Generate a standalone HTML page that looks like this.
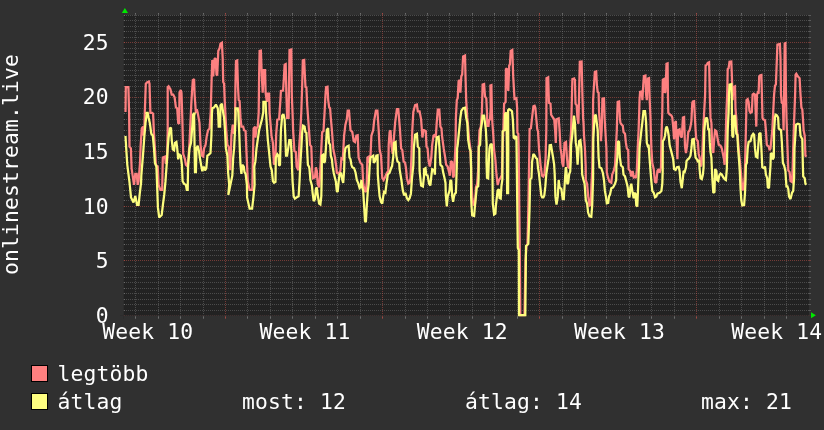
<!DOCTYPE html>
<html><head><meta charset="utf-8"><title>onlinestream.live</title>
<style>html,body{margin:0;padding:0;background:#303030;overflow:hidden}svg{display:block;will-change:transform}text{font-family:"DejaVu Sans Mono","Liberation Mono",monospace;font-size:21.33px;fill:#fff;letter-spacing:0.157px}</style>
</head><body>
<svg width="824" height="430" viewBox="0 0 824 430">
<rect x="0" y="0" width="824" height="430" fill="#303030"/>
<rect x="124" y="15" width="685" height="301" fill="#222222"/>
<g shape-rendering="crispEdges" stroke-width="1" stroke-dasharray="1 1" fill="none">
<line x1="124" x2="808" y1="315.5" y2="315.5" stroke="#c8544c" stroke-opacity="0.50"/>
<line x1="124" x2="808" y1="310.5" y2="310.5" stroke="#8f8f8f" stroke-opacity="0.38"/>
<line x1="124" x2="808" y1="304.5" y2="304.5" stroke="#8f8f8f" stroke-opacity="0.38"/>
<line x1="124" x2="808" y1="299.5" y2="299.5" stroke="#8f8f8f" stroke-opacity="0.38"/>
<line x1="124" x2="808" y1="293.5" y2="293.5" stroke="#8f8f8f" stroke-opacity="0.38"/>
<line x1="124" x2="808" y1="288.5" y2="288.5" stroke="#8f8f8f" stroke-opacity="0.38"/>
<line x1="124" x2="808" y1="282.5" y2="282.5" stroke="#8f8f8f" stroke-opacity="0.38"/>
<line x1="124" x2="808" y1="277.5" y2="277.5" stroke="#8f8f8f" stroke-opacity="0.38"/>
<line x1="124" x2="808" y1="271.5" y2="271.5" stroke="#8f8f8f" stroke-opacity="0.38"/>
<line x1="124" x2="808" y1="266.5" y2="266.5" stroke="#8f8f8f" stroke-opacity="0.38"/>
<line x1="124" x2="808" y1="260.5" y2="260.5" stroke="#c8544c" stroke-opacity="0.50"/>
<line x1="124" x2="808" y1="255.5" y2="255.5" stroke="#8f8f8f" stroke-opacity="0.38"/>
<line x1="124" x2="808" y1="250.5" y2="250.5" stroke="#8f8f8f" stroke-opacity="0.38"/>
<line x1="124" x2="808" y1="244.5" y2="244.5" stroke="#8f8f8f" stroke-opacity="0.38"/>
<line x1="124" x2="808" y1="239.5" y2="239.5" stroke="#8f8f8f" stroke-opacity="0.38"/>
<line x1="124" x2="808" y1="233.5" y2="233.5" stroke="#8f8f8f" stroke-opacity="0.38"/>
<line x1="124" x2="808" y1="228.5" y2="228.5" stroke="#8f8f8f" stroke-opacity="0.38"/>
<line x1="124" x2="808" y1="222.5" y2="222.5" stroke="#8f8f8f" stroke-opacity="0.38"/>
<line x1="124" x2="808" y1="217.5" y2="217.5" stroke="#8f8f8f" stroke-opacity="0.38"/>
<line x1="124" x2="808" y1="211.5" y2="211.5" stroke="#8f8f8f" stroke-opacity="0.38"/>
<line x1="124" x2="808" y1="206.5" y2="206.5" stroke="#c8544c" stroke-opacity="0.50"/>
<line x1="124" x2="808" y1="200.5" y2="200.5" stroke="#8f8f8f" stroke-opacity="0.38"/>
<line x1="124" x2="808" y1="195.5" y2="195.5" stroke="#8f8f8f" stroke-opacity="0.38"/>
<line x1="124" x2="808" y1="190.5" y2="190.5" stroke="#8f8f8f" stroke-opacity="0.38"/>
<line x1="124" x2="808" y1="184.5" y2="184.5" stroke="#8f8f8f" stroke-opacity="0.38"/>
<line x1="124" x2="808" y1="179.5" y2="179.5" stroke="#8f8f8f" stroke-opacity="0.38"/>
<line x1="124" x2="808" y1="173.5" y2="173.5" stroke="#8f8f8f" stroke-opacity="0.38"/>
<line x1="124" x2="808" y1="168.5" y2="168.5" stroke="#8f8f8f" stroke-opacity="0.38"/>
<line x1="124" x2="808" y1="162.5" y2="162.5" stroke="#8f8f8f" stroke-opacity="0.38"/>
<line x1="124" x2="808" y1="157.5" y2="157.5" stroke="#8f8f8f" stroke-opacity="0.38"/>
<line x1="124" x2="808" y1="151.5" y2="151.5" stroke="#c8544c" stroke-opacity="0.50"/>
<line x1="124" x2="808" y1="146.5" y2="146.5" stroke="#8f8f8f" stroke-opacity="0.38"/>
<line x1="124" x2="808" y1="140.5" y2="140.5" stroke="#8f8f8f" stroke-opacity="0.38"/>
<line x1="124" x2="808" y1="135.5" y2="135.5" stroke="#8f8f8f" stroke-opacity="0.38"/>
<line x1="124" x2="808" y1="130.5" y2="130.5" stroke="#8f8f8f" stroke-opacity="0.38"/>
<line x1="124" x2="808" y1="124.5" y2="124.5" stroke="#8f8f8f" stroke-opacity="0.38"/>
<line x1="124" x2="808" y1="119.5" y2="119.5" stroke="#8f8f8f" stroke-opacity="0.38"/>
<line x1="124" x2="808" y1="113.5" y2="113.5" stroke="#8f8f8f" stroke-opacity="0.38"/>
<line x1="124" x2="808" y1="108.5" y2="108.5" stroke="#8f8f8f" stroke-opacity="0.38"/>
<line x1="124" x2="808" y1="102.5" y2="102.5" stroke="#8f8f8f" stroke-opacity="0.38"/>
<line x1="124" x2="808" y1="97.5" y2="97.5" stroke="#c8544c" stroke-opacity="0.50"/>
<line x1="124" x2="808" y1="91.5" y2="91.5" stroke="#8f8f8f" stroke-opacity="0.38"/>
<line x1="124" x2="808" y1="86.5" y2="86.5" stroke="#8f8f8f" stroke-opacity="0.38"/>
<line x1="124" x2="808" y1="80.5" y2="80.5" stroke="#8f8f8f" stroke-opacity="0.38"/>
<line x1="124" x2="808" y1="75.5" y2="75.5" stroke="#8f8f8f" stroke-opacity="0.38"/>
<line x1="124" x2="808" y1="70.5" y2="70.5" stroke="#8f8f8f" stroke-opacity="0.38"/>
<line x1="124" x2="808" y1="64.5" y2="64.5" stroke="#8f8f8f" stroke-opacity="0.38"/>
<line x1="124" x2="808" y1="59.5" y2="59.5" stroke="#8f8f8f" stroke-opacity="0.38"/>
<line x1="124" x2="808" y1="53.5" y2="53.5" stroke="#8f8f8f" stroke-opacity="0.38"/>
<line x1="124" x2="808" y1="48.5" y2="48.5" stroke="#8f8f8f" stroke-opacity="0.38"/>
<line x1="124" x2="808" y1="42.5" y2="42.5" stroke="#c8544c" stroke-opacity="0.50"/>
<line x1="124" x2="808" y1="37.5" y2="37.5" stroke="#8f8f8f" stroke-opacity="0.38"/>
<line x1="124" x2="808" y1="31.5" y2="31.5" stroke="#8f8f8f" stroke-opacity="0.38"/>
<line x1="124" x2="808" y1="26.5" y2="26.5" stroke="#8f8f8f" stroke-opacity="0.38"/>
<line x1="124" x2="808" y1="20.5" y2="20.5" stroke="#8f8f8f" stroke-opacity="0.38"/>
<line x1="124" x2="808" y1="15.5" y2="15.5" stroke="#8f8f8f" stroke-opacity="0.38"/>
<line x1="135.5" x2="135.5" y1="13" y2="319" stroke="#8f8f8f" stroke-opacity="0.38"/>
<line x1="158.5" x2="158.5" y1="13" y2="319" stroke="#8f8f8f" stroke-opacity="0.38"/>
<line x1="180.5" x2="180.5" y1="13" y2="319" stroke="#8f8f8f" stroke-opacity="0.38"/>
<line x1="203.5" x2="203.5" y1="13" y2="319" stroke="#8f8f8f" stroke-opacity="0.38"/>
<line x1="225.5" x2="225.5" y1="13" y2="319" stroke="#c8544c" stroke-opacity="0.50"/>
<line x1="247.5" x2="247.5" y1="13" y2="319" stroke="#8f8f8f" stroke-opacity="0.38"/>
<line x1="270.5" x2="270.5" y1="13" y2="319" stroke="#8f8f8f" stroke-opacity="0.38"/>
<line x1="292.5" x2="292.5" y1="13" y2="319" stroke="#8f8f8f" stroke-opacity="0.38"/>
<line x1="315.5" x2="315.5" y1="13" y2="319" stroke="#8f8f8f" stroke-opacity="0.38"/>
<line x1="337.5" x2="337.5" y1="13" y2="319" stroke="#8f8f8f" stroke-opacity="0.38"/>
<line x1="360.5" x2="360.5" y1="13" y2="319" stroke="#8f8f8f" stroke-opacity="0.38"/>
<line x1="382.5" x2="382.5" y1="13" y2="319" stroke="#c8544c" stroke-opacity="0.50"/>
<line x1="405.5" x2="405.5" y1="13" y2="319" stroke="#8f8f8f" stroke-opacity="0.38"/>
<line x1="427.5" x2="427.5" y1="13" y2="319" stroke="#8f8f8f" stroke-opacity="0.38"/>
<line x1="449.5" x2="449.5" y1="13" y2="319" stroke="#8f8f8f" stroke-opacity="0.38"/>
<line x1="472.5" x2="472.5" y1="13" y2="319" stroke="#8f8f8f" stroke-opacity="0.38"/>
<line x1="494.5" x2="494.5" y1="13" y2="319" stroke="#8f8f8f" stroke-opacity="0.38"/>
<line x1="517.5" x2="517.5" y1="13" y2="319" stroke="#8f8f8f" stroke-opacity="0.38"/>
<line x1="539.5" x2="539.5" y1="13" y2="319" stroke="#c8544c" stroke-opacity="0.50"/>
<line x1="562.5" x2="562.5" y1="13" y2="319" stroke="#8f8f8f" stroke-opacity="0.38"/>
<line x1="584.5" x2="584.5" y1="13" y2="319" stroke="#8f8f8f" stroke-opacity="0.38"/>
<line x1="606.5" x2="606.5" y1="13" y2="319" stroke="#8f8f8f" stroke-opacity="0.38"/>
<line x1="629.5" x2="629.5" y1="13" y2="319" stroke="#8f8f8f" stroke-opacity="0.38"/>
<line x1="651.5" x2="651.5" y1="13" y2="319" stroke="#8f8f8f" stroke-opacity="0.38"/>
<line x1="674.5" x2="674.5" y1="13" y2="319" stroke="#8f8f8f" stroke-opacity="0.38"/>
<line x1="696.5" x2="696.5" y1="13" y2="319" stroke="#c8544c" stroke-opacity="0.50"/>
<line x1="719.5" x2="719.5" y1="13" y2="319" stroke="#8f8f8f" stroke-opacity="0.38"/>
<line x1="741.5" x2="741.5" y1="13" y2="319" stroke="#8f8f8f" stroke-opacity="0.38"/>
<line x1="764.5" x2="764.5" y1="13" y2="319" stroke="#8f8f8f" stroke-opacity="0.38"/>
<line x1="786.5" x2="786.5" y1="13" y2="319" stroke="#8f8f8f" stroke-opacity="0.38"/>
</g>
<g shape-rendering="crispEdges" stroke-width="1" stroke-opacity="0.45"><line x1="123.0" x2="125.0" y1="315.5" y2="315.5" stroke="#c8544c"/><line x1="808.0" x2="811.0" y1="315.5" y2="315.5" stroke="#c8544c"/><line x1="123.0" x2="125.0" y1="310.5" y2="310.5" stroke="#8f8f8f"/><line x1="808.0" x2="811.0" y1="310.5" y2="310.5" stroke="#8f8f8f"/><line x1="123.0" x2="125.0" y1="304.5" y2="304.5" stroke="#8f8f8f"/><line x1="808.0" x2="811.0" y1="304.5" y2="304.5" stroke="#8f8f8f"/><line x1="123.0" x2="125.0" y1="299.5" y2="299.5" stroke="#8f8f8f"/><line x1="808.0" x2="811.0" y1="299.5" y2="299.5" stroke="#8f8f8f"/><line x1="123.0" x2="125.0" y1="293.5" y2="293.5" stroke="#8f8f8f"/><line x1="808.0" x2="811.0" y1="293.5" y2="293.5" stroke="#8f8f8f"/><line x1="123.0" x2="125.0" y1="288.5" y2="288.5" stroke="#8f8f8f"/><line x1="808.0" x2="811.0" y1="288.5" y2="288.5" stroke="#8f8f8f"/><line x1="123.0" x2="125.0" y1="282.5" y2="282.5" stroke="#8f8f8f"/><line x1="808.0" x2="811.0" y1="282.5" y2="282.5" stroke="#8f8f8f"/><line x1="123.0" x2="125.0" y1="277.5" y2="277.5" stroke="#8f8f8f"/><line x1="808.0" x2="811.0" y1="277.5" y2="277.5" stroke="#8f8f8f"/><line x1="123.0" x2="125.0" y1="271.5" y2="271.5" stroke="#8f8f8f"/><line x1="808.0" x2="811.0" y1="271.5" y2="271.5" stroke="#8f8f8f"/><line x1="123.0" x2="125.0" y1="266.5" y2="266.5" stroke="#8f8f8f"/><line x1="808.0" x2="811.0" y1="266.5" y2="266.5" stroke="#8f8f8f"/><line x1="123.0" x2="125.0" y1="260.5" y2="260.5" stroke="#c8544c"/><line x1="808.0" x2="811.0" y1="260.5" y2="260.5" stroke="#c8544c"/><line x1="123.0" x2="125.0" y1="255.5" y2="255.5" stroke="#8f8f8f"/><line x1="808.0" x2="811.0" y1="255.5" y2="255.5" stroke="#8f8f8f"/><line x1="123.0" x2="125.0" y1="250.5" y2="250.5" stroke="#8f8f8f"/><line x1="808.0" x2="811.0" y1="250.5" y2="250.5" stroke="#8f8f8f"/><line x1="123.0" x2="125.0" y1="244.5" y2="244.5" stroke="#8f8f8f"/><line x1="808.0" x2="811.0" y1="244.5" y2="244.5" stroke="#8f8f8f"/><line x1="123.0" x2="125.0" y1="239.5" y2="239.5" stroke="#8f8f8f"/><line x1="808.0" x2="811.0" y1="239.5" y2="239.5" stroke="#8f8f8f"/><line x1="123.0" x2="125.0" y1="233.5" y2="233.5" stroke="#8f8f8f"/><line x1="808.0" x2="811.0" y1="233.5" y2="233.5" stroke="#8f8f8f"/><line x1="123.0" x2="125.0" y1="228.5" y2="228.5" stroke="#8f8f8f"/><line x1="808.0" x2="811.0" y1="228.5" y2="228.5" stroke="#8f8f8f"/><line x1="123.0" x2="125.0" y1="222.5" y2="222.5" stroke="#8f8f8f"/><line x1="808.0" x2="811.0" y1="222.5" y2="222.5" stroke="#8f8f8f"/><line x1="123.0" x2="125.0" y1="217.5" y2="217.5" stroke="#8f8f8f"/><line x1="808.0" x2="811.0" y1="217.5" y2="217.5" stroke="#8f8f8f"/><line x1="123.0" x2="125.0" y1="211.5" y2="211.5" stroke="#8f8f8f"/><line x1="808.0" x2="811.0" y1="211.5" y2="211.5" stroke="#8f8f8f"/><line x1="123.0" x2="125.0" y1="206.5" y2="206.5" stroke="#c8544c"/><line x1="808.0" x2="811.0" y1="206.5" y2="206.5" stroke="#c8544c"/><line x1="123.0" x2="125.0" y1="200.5" y2="200.5" stroke="#8f8f8f"/><line x1="808.0" x2="811.0" y1="200.5" y2="200.5" stroke="#8f8f8f"/><line x1="123.0" x2="125.0" y1="195.5" y2="195.5" stroke="#8f8f8f"/><line x1="808.0" x2="811.0" y1="195.5" y2="195.5" stroke="#8f8f8f"/><line x1="123.0" x2="125.0" y1="190.5" y2="190.5" stroke="#8f8f8f"/><line x1="808.0" x2="811.0" y1="190.5" y2="190.5" stroke="#8f8f8f"/><line x1="123.0" x2="125.0" y1="184.5" y2="184.5" stroke="#8f8f8f"/><line x1="808.0" x2="811.0" y1="184.5" y2="184.5" stroke="#8f8f8f"/><line x1="123.0" x2="125.0" y1="179.5" y2="179.5" stroke="#8f8f8f"/><line x1="808.0" x2="811.0" y1="179.5" y2="179.5" stroke="#8f8f8f"/><line x1="123.0" x2="125.0" y1="173.5" y2="173.5" stroke="#8f8f8f"/><line x1="808.0" x2="811.0" y1="173.5" y2="173.5" stroke="#8f8f8f"/><line x1="123.0" x2="125.0" y1="168.5" y2="168.5" stroke="#8f8f8f"/><line x1="808.0" x2="811.0" y1="168.5" y2="168.5" stroke="#8f8f8f"/><line x1="123.0" x2="125.0" y1="162.5" y2="162.5" stroke="#8f8f8f"/><line x1="808.0" x2="811.0" y1="162.5" y2="162.5" stroke="#8f8f8f"/><line x1="123.0" x2="125.0" y1="157.5" y2="157.5" stroke="#8f8f8f"/><line x1="808.0" x2="811.0" y1="157.5" y2="157.5" stroke="#8f8f8f"/><line x1="123.0" x2="125.0" y1="151.5" y2="151.5" stroke="#c8544c"/><line x1="808.0" x2="811.0" y1="151.5" y2="151.5" stroke="#c8544c"/><line x1="123.0" x2="125.0" y1="146.5" y2="146.5" stroke="#8f8f8f"/><line x1="808.0" x2="811.0" y1="146.5" y2="146.5" stroke="#8f8f8f"/><line x1="123.0" x2="125.0" y1="140.5" y2="140.5" stroke="#8f8f8f"/><line x1="808.0" x2="811.0" y1="140.5" y2="140.5" stroke="#8f8f8f"/><line x1="123.0" x2="125.0" y1="135.5" y2="135.5" stroke="#8f8f8f"/><line x1="808.0" x2="811.0" y1="135.5" y2="135.5" stroke="#8f8f8f"/><line x1="123.0" x2="125.0" y1="130.5" y2="130.5" stroke="#8f8f8f"/><line x1="808.0" x2="811.0" y1="130.5" y2="130.5" stroke="#8f8f8f"/><line x1="123.0" x2="125.0" y1="124.5" y2="124.5" stroke="#8f8f8f"/><line x1="808.0" x2="811.0" y1="124.5" y2="124.5" stroke="#8f8f8f"/><line x1="123.0" x2="125.0" y1="119.5" y2="119.5" stroke="#8f8f8f"/><line x1="808.0" x2="811.0" y1="119.5" y2="119.5" stroke="#8f8f8f"/><line x1="123.0" x2="125.0" y1="113.5" y2="113.5" stroke="#8f8f8f"/><line x1="808.0" x2="811.0" y1="113.5" y2="113.5" stroke="#8f8f8f"/><line x1="123.0" x2="125.0" y1="108.5" y2="108.5" stroke="#8f8f8f"/><line x1="808.0" x2="811.0" y1="108.5" y2="108.5" stroke="#8f8f8f"/><line x1="123.0" x2="125.0" y1="102.5" y2="102.5" stroke="#8f8f8f"/><line x1="808.0" x2="811.0" y1="102.5" y2="102.5" stroke="#8f8f8f"/><line x1="123.0" x2="125.0" y1="97.5" y2="97.5" stroke="#c8544c"/><line x1="808.0" x2="811.0" y1="97.5" y2="97.5" stroke="#c8544c"/><line x1="123.0" x2="125.0" y1="91.5" y2="91.5" stroke="#8f8f8f"/><line x1="808.0" x2="811.0" y1="91.5" y2="91.5" stroke="#8f8f8f"/><line x1="123.0" x2="125.0" y1="86.5" y2="86.5" stroke="#8f8f8f"/><line x1="808.0" x2="811.0" y1="86.5" y2="86.5" stroke="#8f8f8f"/><line x1="123.0" x2="125.0" y1="80.5" y2="80.5" stroke="#8f8f8f"/><line x1="808.0" x2="811.0" y1="80.5" y2="80.5" stroke="#8f8f8f"/><line x1="123.0" x2="125.0" y1="75.5" y2="75.5" stroke="#8f8f8f"/><line x1="808.0" x2="811.0" y1="75.5" y2="75.5" stroke="#8f8f8f"/><line x1="123.0" x2="125.0" y1="70.5" y2="70.5" stroke="#8f8f8f"/><line x1="808.0" x2="811.0" y1="70.5" y2="70.5" stroke="#8f8f8f"/><line x1="123.0" x2="125.0" y1="64.5" y2="64.5" stroke="#8f8f8f"/><line x1="808.0" x2="811.0" y1="64.5" y2="64.5" stroke="#8f8f8f"/><line x1="123.0" x2="125.0" y1="59.5" y2="59.5" stroke="#8f8f8f"/><line x1="808.0" x2="811.0" y1="59.5" y2="59.5" stroke="#8f8f8f"/><line x1="123.0" x2="125.0" y1="53.5" y2="53.5" stroke="#8f8f8f"/><line x1="808.0" x2="811.0" y1="53.5" y2="53.5" stroke="#8f8f8f"/><line x1="123.0" x2="125.0" y1="48.5" y2="48.5" stroke="#8f8f8f"/><line x1="808.0" x2="811.0" y1="48.5" y2="48.5" stroke="#8f8f8f"/><line x1="123.0" x2="125.0" y1="42.5" y2="42.5" stroke="#c8544c"/><line x1="808.0" x2="811.0" y1="42.5" y2="42.5" stroke="#c8544c"/><line x1="123.0" x2="125.0" y1="37.5" y2="37.5" stroke="#8f8f8f"/><line x1="808.0" x2="811.0" y1="37.5" y2="37.5" stroke="#8f8f8f"/><line x1="123.0" x2="125.0" y1="31.5" y2="31.5" stroke="#8f8f8f"/><line x1="808.0" x2="811.0" y1="31.5" y2="31.5" stroke="#8f8f8f"/><line x1="123.0" x2="125.0" y1="26.5" y2="26.5" stroke="#8f8f8f"/><line x1="808.0" x2="811.0" y1="26.5" y2="26.5" stroke="#8f8f8f"/><line x1="123.0" x2="125.0" y1="20.5" y2="20.5" stroke="#8f8f8f"/><line x1="808.0" x2="811.0" y1="20.5" y2="20.5" stroke="#8f8f8f"/><line x1="123.0" x2="125.0" y1="15.5" y2="15.5" stroke="#8f8f8f"/><line x1="808.0" x2="811.0" y1="15.5" y2="15.5" stroke="#8f8f8f"/><line x1="135.5" x2="135.5" y1="13.0" y2="15.0" stroke="#8f8f8f"/><line x1="135.5" x2="135.5" y1="316.0" y2="318.5" stroke="#8f8f8f"/><line x1="158.5" x2="158.5" y1="13.0" y2="15.0" stroke="#8f8f8f"/><line x1="158.5" x2="158.5" y1="316.0" y2="318.5" stroke="#8f8f8f"/><line x1="180.5" x2="180.5" y1="13.0" y2="15.0" stroke="#8f8f8f"/><line x1="180.5" x2="180.5" y1="316.0" y2="318.5" stroke="#8f8f8f"/><line x1="203.5" x2="203.5" y1="13.0" y2="15.0" stroke="#8f8f8f"/><line x1="203.5" x2="203.5" y1="316.0" y2="318.5" stroke="#8f8f8f"/><line x1="225.5" x2="225.5" y1="13.0" y2="15.0" stroke="#c8544c"/><line x1="225.5" x2="225.5" y1="316.0" y2="318.5" stroke="#c8544c"/><line x1="247.5" x2="247.5" y1="13.0" y2="15.0" stroke="#8f8f8f"/><line x1="247.5" x2="247.5" y1="316.0" y2="318.5" stroke="#8f8f8f"/><line x1="270.5" x2="270.5" y1="13.0" y2="15.0" stroke="#8f8f8f"/><line x1="270.5" x2="270.5" y1="316.0" y2="318.5" stroke="#8f8f8f"/><line x1="292.5" x2="292.5" y1="13.0" y2="15.0" stroke="#8f8f8f"/><line x1="292.5" x2="292.5" y1="316.0" y2="318.5" stroke="#8f8f8f"/><line x1="315.5" x2="315.5" y1="13.0" y2="15.0" stroke="#8f8f8f"/><line x1="315.5" x2="315.5" y1="316.0" y2="318.5" stroke="#8f8f8f"/><line x1="337.5" x2="337.5" y1="13.0" y2="15.0" stroke="#8f8f8f"/><line x1="337.5" x2="337.5" y1="316.0" y2="318.5" stroke="#8f8f8f"/><line x1="360.5" x2="360.5" y1="13.0" y2="15.0" stroke="#8f8f8f"/><line x1="360.5" x2="360.5" y1="316.0" y2="318.5" stroke="#8f8f8f"/><line x1="382.5" x2="382.5" y1="13.0" y2="15.0" stroke="#c8544c"/><line x1="382.5" x2="382.5" y1="316.0" y2="318.5" stroke="#c8544c"/><line x1="405.5" x2="405.5" y1="13.0" y2="15.0" stroke="#8f8f8f"/><line x1="405.5" x2="405.5" y1="316.0" y2="318.5" stroke="#8f8f8f"/><line x1="427.5" x2="427.5" y1="13.0" y2="15.0" stroke="#8f8f8f"/><line x1="427.5" x2="427.5" y1="316.0" y2="318.5" stroke="#8f8f8f"/><line x1="449.5" x2="449.5" y1="13.0" y2="15.0" stroke="#8f8f8f"/><line x1="449.5" x2="449.5" y1="316.0" y2="318.5" stroke="#8f8f8f"/><line x1="472.5" x2="472.5" y1="13.0" y2="15.0" stroke="#8f8f8f"/><line x1="472.5" x2="472.5" y1="316.0" y2="318.5" stroke="#8f8f8f"/><line x1="494.5" x2="494.5" y1="13.0" y2="15.0" stroke="#8f8f8f"/><line x1="494.5" x2="494.5" y1="316.0" y2="318.5" stroke="#8f8f8f"/><line x1="517.5" x2="517.5" y1="13.0" y2="15.0" stroke="#8f8f8f"/><line x1="517.5" x2="517.5" y1="316.0" y2="318.5" stroke="#8f8f8f"/><line x1="539.5" x2="539.5" y1="13.0" y2="15.0" stroke="#c8544c"/><line x1="539.5" x2="539.5" y1="316.0" y2="318.5" stroke="#c8544c"/><line x1="562.5" x2="562.5" y1="13.0" y2="15.0" stroke="#8f8f8f"/><line x1="562.5" x2="562.5" y1="316.0" y2="318.5" stroke="#8f8f8f"/><line x1="584.5" x2="584.5" y1="13.0" y2="15.0" stroke="#8f8f8f"/><line x1="584.5" x2="584.5" y1="316.0" y2="318.5" stroke="#8f8f8f"/><line x1="606.5" x2="606.5" y1="13.0" y2="15.0" stroke="#8f8f8f"/><line x1="606.5" x2="606.5" y1="316.0" y2="318.5" stroke="#8f8f8f"/><line x1="629.5" x2="629.5" y1="13.0" y2="15.0" stroke="#8f8f8f"/><line x1="629.5" x2="629.5" y1="316.0" y2="318.5" stroke="#8f8f8f"/><line x1="651.5" x2="651.5" y1="13.0" y2="15.0" stroke="#8f8f8f"/><line x1="651.5" x2="651.5" y1="316.0" y2="318.5" stroke="#8f8f8f"/><line x1="674.5" x2="674.5" y1="13.0" y2="15.0" stroke="#8f8f8f"/><line x1="674.5" x2="674.5" y1="316.0" y2="318.5" stroke="#8f8f8f"/><line x1="696.5" x2="696.5" y1="13.0" y2="15.0" stroke="#c8544c"/><line x1="696.5" x2="696.5" y1="316.0" y2="318.5" stroke="#c8544c"/><line x1="719.5" x2="719.5" y1="13.0" y2="15.0" stroke="#8f8f8f"/><line x1="719.5" x2="719.5" y1="316.0" y2="318.5" stroke="#8f8f8f"/><line x1="741.5" x2="741.5" y1="13.0" y2="15.0" stroke="#8f8f8f"/><line x1="741.5" x2="741.5" y1="316.0" y2="318.5" stroke="#8f8f8f"/><line x1="764.5" x2="764.5" y1="13.0" y2="15.0" stroke="#8f8f8f"/><line x1="764.5" x2="764.5" y1="316.0" y2="318.5" stroke="#8f8f8f"/><line x1="786.5" x2="786.5" y1="13.0" y2="15.0" stroke="#8f8f8f"/><line x1="786.5" x2="786.5" y1="316.0" y2="318.5" stroke="#8f8f8f"/></g>
<g shape-rendering="crispEdges" stroke="#2b2b2b" stroke-opacity="0.72" stroke-width="1"><line x1="120" x2="812" y1="315.5" y2="315.5"/><line x1="123.5" x2="123.5" y1="12" y2="319"/></g>
<g fill="none" stroke-width="2.25" stroke-linejoin="miter" stroke-miterlimit="2" stroke-linecap="butt">
<path d="M125.5,111.9 L125.8,87.0 L128.4,87.0 L129.1,112.8 L129.5,146.6 L130.9,148.4 L131.6,168.4 L134.0,184.8 L135.3,173.9 L136.7,173.9 L137.7,184.8 L138.6,181.2 L140.0,163.0 L140.7,144.8 L141.8,128.4 L143.1,126.6 L143.7,135.7 L144.4,130.2 L144.8,112.0 L145.8,83.7 L147.3,82.2 L148.9,81.5 L149.5,83.7 L150.4,112.8 L152.2,112.8 L153.1,113.8 L154.0,133.8 L154.9,148.4 L155.9,164.8 L157.7,166.6 L158.6,184.8 L160.4,189.9 L162.2,189.9 L162.8,157.5 L165.0,156.6 L165.9,163.9 L167.0,161.2 L167.7,130.2 L167.7,87.3 L168.6,86.4 L170.4,89.2 L171.7,94.6 L173.2,94.6 L174.6,97.3 L175.9,107.4 L177.2,108.3 L178.2,122.9 L179.2,123.8 L179.5,92.8 L180.8,90.1 L181.5,92.8 L182.3,117.9 L183.2,153.9 L185.0,159.3 L185.9,164.8 L187.7,166.6 L188.6,155.7 L189.5,142.9 L191.4,101.9 L192.8,80.0 L194.1,79.1 L194.6,94.6 L195.9,112.8 L196.8,109.2 L197.7,112.8 L199.5,122.9 L200.5,144.8 L201.9,155.7 L203.2,156.6 L204.1,148.4 L205.6,144.8 L206.8,135.7 L208.1,130.2 L209.6,128.4 L210.7,112.0 L211.7,76.4 L212.3,60.0 L213.2,76.4 L214.5,59.1 L215.6,58.2 L216.5,74.6 L217.2,75.5 L218.3,50.9 L219.6,48.2 L220.5,43.6 L221.9,42.7 L222.7,58.2 L223.2,81.9 L224.1,83.7 L224.7,100.1 L225.6,117.9 L226.3,130.2 L227.4,144.8 L228.7,146.6 L229.6,159.3 L230.3,170.3 L231.4,135.7 L232.7,124.7 L234.1,133.8 L235.0,122.9 L235.4,87.3 L236.0,60.9 L237.2,60.4 L238.0,87.3 L238.7,100.1 L239.6,101.0 L240.5,117.9 L241.4,126.6 L243.2,126.6 L244.1,130.2 L245.6,131.1 L246.3,148.4 L247.8,181.2 L249.6,189.9 L252.3,189.9 L252.9,157.5 L253.6,128.4 L255.1,126.6 L255.4,137.5 L256.5,128.4 L257.8,126.6 L258.7,112.0 L259.1,76.4 L259.6,50.9 L260.9,50.6 L261.8,76.4 L262.7,92.8 L263.8,70.0 L265.1,70.0 L265.6,92.8 L266.9,101.9 L267.8,93.7 L269.1,93.7 L269.6,112.8 L271.5,135.7 L272.9,142.9 L274.0,164.8 L275.5,157.5 L276.2,133.8 L277.3,119.6 L279.1,119.3 L280.4,100.1 L280.9,91.0 L283.1,90.6 L284.0,76.4 L284.6,64.6 L285.7,64.0 L286.4,94.6 L287.1,117.9 L288.6,117.9 L288.9,94.6 L289.5,50.0 L291.3,49.5 L291.8,94.6 L292.6,114.6 L293.1,130.2 L293.7,139.3 L294.4,151.1 L295.8,152.0 L296.6,166.6 L298.4,170.3 L299.1,148.4 L300.4,130.2 L301.3,112.0 L302.2,85.5 L302.8,60.4 L304.2,60.0 L304.9,76.4 L305.5,87.0 L306.4,87.3 L307.1,103.7 L309.0,130.2 L310.0,144.8 L311.3,146.6 L312.2,170.9 L313.1,178.2 L315.0,177.3 L315.9,167.3 L316.8,170.9 L317.7,183.7 L319.1,187.3 L319.9,178.2 L320.6,163.6 L321.3,148.4 L322.2,132.0 L323.5,131.1 L324.6,112.0 L325.5,94.6 L326.1,87.0 L327.5,86.6 L328.2,100.1 L329.2,107.4 L330.1,108.3 L330.8,117.9 L331.9,130.2 L333.2,148.4 L335.0,157.5 L336.3,166.6 L336.8,172.7 L338.6,173.7 L340.4,170.9 L341.4,158.4 L342.8,159.3 L344.1,135.7 L345.4,124.7 L346.8,119.3 L347.7,110.6 L349.0,110.6 L350.5,130.2 L352.3,132.0 L353.7,141.1 L355.0,142.0 L356.3,135.7 L357.7,135.3 L358.6,157.5 L360.5,163.0 L362.3,164.8 L363.2,183.7 L364.7,190.9 L365.9,191.9 L366.8,181.8 L367.4,157.5 L368.7,156.6 L369.6,163.0 L370.5,155.7 L371.4,135.7 L373.2,130.2 L374.1,121.1 L375.9,110.6 L377.4,110.6 L378.7,130.2 L379.6,149.3 L381.0,155.7 L382.3,178.2 L383.6,180.0 L385.0,177.3 L386.9,172.7 L388.3,170.9 L388.7,144.8 L389.6,132.0 L390.5,130.2 L391.4,144.8 L392.7,153.9 L393.8,139.3 L395.1,122.9 L396.9,109.2 L398.3,109.2 L400.0,130.2 L401.1,148.4 L402.3,150.2 L403.6,161.2 L405.1,163.0 L406.0,168.2 L406.9,178.2 L408.3,183.7 L409.6,182.8 L410.5,178.2 L411.4,157.5 L412.3,130.2 L413.3,112.0 L413.8,110.1 L415.1,105.2 L416.9,104.6 L417.8,111.4 L419.6,111.4 L421.1,119.3 L422.4,137.5 L423.6,130.2 L424.0,130.2 L425.8,131.1 L426.5,146.6 L427.6,148.4 L428.6,161.2 L429.8,166.6 L431.3,157.5 L432.2,144.8 L433.5,135.7 L434.9,134.8 L435.8,137.5 L436.7,122.9 L437.8,109.5 L439.3,109.5 L440.4,126.6 L441.5,128.4 L442.2,137.5 L443.7,148.4 L444.9,155.7 L446.2,164.8 L447.7,166.6 L449.1,172.1 L449.8,175.7 L450.9,161.2 L452.2,162.1 L453.1,177.5 L454.0,175.7 L454.9,157.5 L455.5,144.8 L455.9,117.8 L456.8,100.1 L457.7,98.3 L458.6,81.0 L459.7,80.0 L460.4,92.8 L461.3,76.4 L462.2,74.6 L463.1,56.4 L465.0,55.5 L465.5,76.4 L466.2,100.1 L467.3,117.9 L468.1,126.6 L469.1,139.3 L470.4,148.4 L471.7,187.3 L472.4,198.2 L473.5,204.6 L475.0,203.7 L475.9,187.3 L477.2,183.7 L478.2,169.1 L478.6,148.4 L479.5,130.2 L480.8,126.6 L481.9,112.0 L482.6,84.6 L484.1,84.1 L485.0,96.4 L486.3,98.3 L487.0,112.8 L487.3,125.8 L488.5,125.8 L489.0,120.1 L490.0,119.5 L490.7,107.6 L490.4,85.5 L491.4,85.1 L491.9,112.8 L492.4,122.9 L493.2,133.8 L494.1,150.0 L495.4,160.0 L496.5,175.0 L497.7,185.0 L499.0,180.0 L500.5,178.0 L501.9,175.0 L502.6,148.0 L503.4,128.0 L504.1,103.7 L505.6,101.9 L505.9,69.1 L506.8,68.2 L507.7,85.5 L508.3,91.0 L509.2,65.5 L509.9,64.6 L510.7,50.9 L512.3,50.0 L513.2,76.4 L514.5,98.8 L516.4,98.1 L517.1,107.6 L517.4,132.7 L518.3,133.9 L518.7,149.0 L519.2,200.0 L519.8,250.0 L520.3,315.0 L524.5,315.0 L525.5,260.0 L526.5,246.0 L527.5,244.0 L528.5,200.0 L529.3,150.0 L529.6,128.9 L530.9,128.3 L531.8,120.1 L533.4,106.3 L534.6,105.7 L535.3,107.6 L535.9,113.8 L537.2,128.9 L538.0,131.4 L539.0,148.4 L540.5,164.8 L542.0,175.7 L543.2,176.6 L544.5,173.9 L545.6,157.5 L546.3,130.2 L546.5,78.2 L548.2,77.3 L548.9,102.8 L550.5,103.7 L551.1,114.6 L552.9,117.5 L554.2,119.3 L555.1,130.2 L555.8,142.9 L556.5,119.3 L558.7,118.4 L559.6,130.2 L560.5,148.4 L561.4,153.9 L562.3,163.0 L563.3,166.6 L564.5,142.9 L566.0,142.0 L566.9,157.5 L567.8,166.6 L569.3,168.4 L570.0,148.4 L571.1,130.2 L572.4,79.1 L574.0,78.6 L574.0,79.1 L574.9,79.7 L575.5,103.7 L576.7,105.5 L577.3,116.5 L578.4,123.8 L579.1,94.6 L579.8,61.8 L581.6,61.5 L582.4,94.6 L583.1,117.9 L583.5,122.9 L584.0,135.7 L584.9,148.4 L585.7,166.6 L585.8,180.0 L587.1,183.7 L588.2,196.4 L589.5,205.5 L590.7,204.6 L591.5,183.7 L592.2,170.9 L592.6,148.4 L592.9,130.2 L593.1,100.1 L594.0,85.5 L594.8,71.9 L596.2,71.3 L596.9,85.5 L597.7,91.9 L598.6,92.8 L599.1,112.8 L600.4,130.2 L600.9,141.1 L601.7,130.2 L602.4,98.6 L604.0,98.3 L604.6,117.9 L605.3,130.2 L606.4,148.4 L606.8,172.7 L608.2,178.2 L609.5,181.8 L611.3,182.8 L612.2,174.6 L613.7,170.9 L615.0,165.5 L615.9,148.4 L616.8,130.2 L617.3,112.0 L617.7,101.9 L619.1,101.5 L619.9,117.9 L620.4,122.9 L621.7,124.7 L622.8,125.7 L623.5,132.0 L625.0,133.8 L625.9,142.9 L626.8,148.4 L628.2,150.2 L628.6,169.1 L630.1,170.9 L631.3,176.4 L632.6,170.9 L633.7,177.3 L635.0,176.4 L635.9,178.2 L636.8,170.9 L637.7,148.4 L638.6,130.2 L639.2,112.0 L639.5,100.1 L640.1,91.9 L641.7,91.5 L642.4,100.1 L643.2,85.5 L643.9,76.0 L645.4,75.5 L646.1,94.6 L646.8,100.1 L647.4,85.5 L647.9,78.6 L649.0,78.2 L649.7,100.1 L650.5,117.9 L650.8,130.2 L651.4,148.4 L652.3,163.0 L653.7,169.1 L655.0,181.8 L656.3,182.8 L657.4,170.9 L658.6,169.1 L659.6,172.7 L661.0,167.3 L661.4,139.3 L661.7,130.2 L662.3,112.0 L662.5,94.6 L662.8,79.7 L663.9,79.1 L664.7,92.8 L665.4,91.9 L666.1,76.4 L666.5,63.7 L667.6,63.3 L667.9,94.6 L668.3,112.8 L669.6,114.3 L671.4,115.5 L672.3,117.5 L673.2,126.6 L674.1,139.3 L675.0,122.9 L675.9,121.1 L676.9,148.4 L677.4,159.3 L678.1,130.2 L679.6,129.3 L680.5,135.7 L681.8,137.5 L682.9,117.5 L684.1,117.1 L685.0,146.6 L686.0,153.0 L687.2,144.8 L688.3,132.0 L689.6,130.2 L690.5,126.6 L691.4,121.1 L692.3,102.8 L692.9,101.5 L694.1,101.2 L694.9,117.9 L695.6,130.2 L696.3,139.3 L697.8,141.1 L698.7,153.9 L699.6,157.5 L700.5,166.6 L701.4,164.8 L702.3,153.9 L703.2,130.2 L705.1,94.6 L705.6,65.5 L706.9,64.6 L707.8,62.8 L709.1,62.2 L709.8,94.6 L710.5,117.9 L711.4,122.9 L712.3,148.4 L713.3,153.0 L714.2,139.3 L715.1,130.2 L716.4,131.1 L717.4,137.5 L718.7,144.8 L720.5,145.7 L721.8,148.4 L723.3,155.7 L724.0,159.3 L724.6,164.8 L725.3,148.4 L725.9,130.2 L726.4,112.0 L727.2,94.6 L727.7,69.1 L728.6,68.2 L729.5,61.8 L731.3,61.5 L731.9,76.4 L732.6,100.1 L733.3,87.3 L735.0,86.4 L735.5,109.2 L736.3,117.9 L736.8,130.2 L737.7,135.7 L738.6,148.4 L739.5,157.5 L740.4,166.6 L741.4,178.2 L742.3,189.1 L743.5,190.0 L744.6,178.2 L745.0,166.6 L745.9,130.2 L746.3,112.0 L746.5,100.1 L747.7,99.2 L748.6,101.9 L749.5,111.0 L750.5,112.8 L751.9,111.9 L752.6,94.6 L753.7,93.7 L755.0,94.6 L756.3,126.6 L757.0,94.6 L757.7,92.8 L758.6,93.7 L759.2,76.4 L759.9,75.5 L761.4,75.0 L761.9,94.6 L762.5,117.9 L763.2,119.3 L765.0,120.2 L765.9,130.2 L766.8,144.8 L768.7,146.6 L769.6,150.2 L770.5,148.4 L771.4,139.3 L772.3,130.2 L773.2,112.0 L774.1,94.6 L775.0,85.5 L775.9,84.6 L776.9,58.2 L777.4,44.6 L779.9,44.0 L780.5,58.2 L781.0,94.6 L781.8,102.8 L782.9,103.7 L783.6,130.2 L784.1,94.6 L784.7,43.6 L785.4,43.3 L786.0,94.6 L786.5,117.9 L786.9,130.2 L787.2,139.3 L788.3,170.3 L789.6,172.1 L790.5,181.2 L792.0,182.1 L792.7,166.6 L793.2,148.4 L794.1,121.1 L795.1,94.6 L795.6,74.6 L796.3,73.7 L797.8,76.4 L798.7,77.3 L799.6,78.2 L800.5,94.6 L801.4,107.4 L802.3,109.2 L802.9,117.9 L803.6,130.2 L804.7,135.7 L805.4,155.7 L806.5,156.6" stroke="#fd8080"/>
<path d="M125.5,136.0 L126.2,148.4 L127.3,164.8 L129.5,182.3 L131.0,197.4 L133.5,202.4 L135.3,196.1 L137.1,204.9 L138.6,204.9 L139.6,194.9 L141.1,182.3 L141.3,175.7 L142.2,164.8 L143.1,153.9 L144.4,135.7 L145.5,122.9 L146.8,113.8 L145.8,112.8 L147.7,112.8 L148.6,117.5 L149.8,122.9 L151.3,133.8 L152.8,135.7 L154.0,148.4 L154.9,163.0 L156.4,166.6 L157.1,184.8 L157.9,207.4 L159.2,217.5 L161.7,215.0 L162.9,204.9 L164.2,194.9 L165.5,181.2 L166.8,163.0 L167.7,148.4 L168.6,137.5 L169.9,128.4 L171.0,127.5 L171.7,139.3 L172.8,149.3 L174.1,150.2 L175.0,142.9 L176.4,142.0 L177.2,148.4 L178.2,159.3 L179.5,154.8 L180.8,155.7 L181.9,164.8 L182.6,181.2 L184.1,183.9 L185.9,184.8 L186.8,189.9 L187.7,189.9 L188.1,166.6 L189.5,148.4 L191.0,142.9 L192.3,126.6 L193.2,113.8 L192.8,113.7 L194.6,113.7 L194.1,115.6 L194.6,148.4 L195.0,172.1 L195.9,172.1 L196.5,148.4 L197.7,145.7 L199.0,151.1 L200.1,159.3 L201.4,166.6 L202.3,171.2 L203.7,166.6 L205.0,170.3 L206.3,168.4 L207.4,155.7 L208.6,154.8 L210.5,153.0 L211.4,135.7 L211.9,113.8 L212.3,108.3 L214.1,107.4 L215.9,104.6 L217.8,108.3 L218.3,116.5 L218.7,126.6 L220.1,126.6 L220.5,105.5 L221.9,103.7 L223.2,112.8 L224.1,117.9 L225.0,130.2 L225.9,148.4 L227.4,155.7 L228.1,172.1 L229.2,184.8 L228.3,194.9 L232.3,175.7 L233.2,157.5 L234.1,148.4 L235.0,130.2 L235.6,115.6 L235.6,108.3 L237.8,108.3 L238.3,112.0 L239.0,126.6 L239.8,148.4 L240.5,164.8 L241.4,173.9 L242.3,164.8 L243.8,166.6 L244.5,172.1 L245.6,173.9 L246.9,184.8 L247.1,197.4 L249.6,208.7 L252.1,208.7 L253.4,197.4 L254.6,184.8 L254.3,166.6 L255.4,161.2 L256.5,148.4 L257.8,139.3 L259.1,130.2 L260.5,124.7 L262.0,119.3 L263.3,112.0 L263.4,101.9 L265.6,101.9 L266.0,112.0 L266.9,126.6 L267.8,139.3 L268.7,148.4 L269.6,157.5 L270.5,166.6 L271.8,170.3 L272.9,181.2 L274.0,182.8 L275.5,181.8 L275.8,157.5 L277.3,154.2 L278.4,155.7 L279.1,165.7 L280.0,164.8 L280.9,130.2 L282.2,115.6 L283.5,114.2 L284.6,119.3 L285.3,135.7 L286.0,155.7 L287.1,155.7 L288.2,148.4 L289.3,140.2 L290.7,140.2 L291.5,152.0 L292.2,172.1 L292.6,181.8 L293.7,196.4 L294.9,198.6 L296.8,197.3 L298.6,196.4 L299.5,181.8 L300.0,170.9 L300.4,163.0 L301.3,148.4 L302.2,132.0 L303.1,125.7 L304.6,126.6 L305.3,132.0 L306.4,132.9 L307.1,148.4 L307.9,164.8 L309.0,166.6 L309.5,169.1 L310.4,180.0 L311.9,185.5 L312.6,192.8 L313.7,201.0 L315.0,199.1 L315.9,189.1 L316.8,187.3 L317.7,194.6 L319.1,203.7 L320.4,204.6 L321.3,196.4 L321.7,178.2 L321.9,155.7 L323.2,154.8 L324.1,163.0 L325.0,161.2 L325.9,148.4 L326.8,130.2 L328.1,128.0 L329.0,142.9 L330.1,144.8 L330.8,155.7 L331.9,159.3 L332.6,166.6 L333.7,172.7 L335.0,178.2 L335.9,181.8 L336.8,190.9 L337.7,191.9 L338.6,181.8 L339.5,174.6 L341.0,172.7 L342.3,180.0 L343.2,182.8 L344.1,170.9 L344.6,153.9 L345.4,148.4 L346.8,146.6 L348.6,145.7 L349.5,157.5 L350.5,159.3 L351.4,164.8 L352.3,167.3 L354.1,168.2 L355.6,172.7 L356.8,180.0 L358.1,182.8 L359.6,188.2 L360.5,187.3 L361.4,180.0 L362.3,187.3 L363.2,190.9 L364.1,205.5 L365.0,221.0 L365.9,221.9 L366.8,205.5 L367.8,190.9 L368.7,183.7 L369.4,170.9 L369.6,166.6 L370.5,157.5 L371.9,156.6 L373.2,155.7 L373.8,163.0 L375.0,161.2 L376.3,155.7 L377.6,155.3 L377.8,174.6 L378.7,186.4 L379.6,196.4 L381.0,201.9 L382.3,203.7 L383.2,196.4 L384.1,191.9 L385.4,192.8 L386.5,183.7 L387.8,174.6 L389.6,172.7 L391.4,167.3 L392.0,166.6 L393.2,157.5 L394.1,142.9 L395.6,142.0 L396.3,155.7 L397.4,161.2 L399.2,163.0 L399.6,169.1 L401.4,180.0 L402.9,190.9 L404.2,195.5 L405.4,192.8 L406.9,198.2 L408.3,200.0 L409.6,198.2 L410.9,193.7 L412.0,178.2 L413.3,165.5 L413.8,148.4 L415.1,134.8 L416.9,133.8 L417.8,146.6 L419.3,148.4 L419.6,170.9 L421.1,185.5 L422.9,186.4 L424.0,176.4 L424.0,169.1 L425.5,168.2 L426.2,174.6 L427.6,175.5 L429.1,183.7 L430.4,185.5 L431.3,176.4 L432.2,169.1 L434.0,170.0 L434.9,174.6 L435.3,157.5 L435.8,148.4 L436.7,137.5 L438.6,136.6 L439.5,148.4 L440.4,164.8 L442.2,166.6 L443.1,172.1 L444.4,177.5 L445.5,183.0 L445.8,194.6 L446.8,206.4 L447.7,196.4 L448.6,193.7 L449.5,190.9 L450.4,180.0 L451.3,180.9 L452.2,196.4 L453.1,201.9 L454.0,196.4 L454.9,193.7 L455.9,192.8 L456.4,178.2 L456.8,165.5 L457.1,148.4 L457.7,144.8 L458.6,135.7 L459.5,126.6 L460.4,117.5 L461.3,111.0 L463.1,108.3 L465.0,107.7 L466.2,117.9 L467.3,122.9 L468.1,139.3 L469.5,148.4 L470.6,151.1 L471.1,166.6 L471.1,196.4 L471.5,205.5 L472.2,215.5 L474.1,216.1 L475.0,205.5 L475.9,196.4 L476.8,187.3 L478.2,186.4 L478.6,178.2 L478.8,146.6 L480.1,144.8 L480.8,130.2 L481.9,122.9 L482.6,115.6 L484.1,115.6 L485.0,122.9 L485.9,130.2 L486.6,144.8 L486.5,161.6 L487.0,177.9 L488.2,178.5 L488.8,161.6 L489.5,148.4 L490.4,144.8 L491.7,143.9 L492.3,157.5 L492.8,203.7 L494.1,214.6 L495.4,213.7 L495.9,205.5 L497.6,190.5 L498.8,189.2 L499.5,198.0 L500.7,198.6 L501.4,186.7 L502.4,179.1 L502.6,131.4 L504.5,130.2 L505.1,113.8 L506.4,112.6 L506.9,150.0 L507.1,193.0 L508.1,193.0 L508.3,150.0 L508.1,110.1 L509.1,109.1 L510.8,110.1 L512.0,111.3 L512.9,120.1 L513.7,137.7 L514.5,138.3 L515.4,136.5 L516.4,137.1 L516.6,150.0 L517.2,200.0 L517.8,248.0 L518.8,250.0 L519.0,315.0 L525.3,315.0 L526.0,246.0 L528.3,244.0 L529.5,210.0 L530.2,180.0 L530.5,179.1 L531.5,177.9 L532.1,161.6 L533.4,154.0 L534.6,155.3 L535.9,157.8 L537.2,159.0 L538.0,167.8 L539.0,174.1 L540.3,186.7 L541.3,195.5 L542.2,197.4 L543.4,197.4 L544.3,195.5 L545.3,186.7 L546.3,174.1 L547.2,167.8 L548.5,159.0 L549.1,154.0 L549.7,145.2 L551.0,145.0 L552.9,156.5 L554.1,164.1 L554.7,174.1 L555.4,196.4 L556.5,204.6 L557.8,196.4 L558.7,180.0 L559.6,187.3 L561.4,189.1 L562.7,199.1 L563.8,199.1 L564.5,187.3 L565.6,169.1 L566.0,167.2 L566.7,174.1 L567.3,184.2 L568.2,182.9 L569.2,174.1 L570.2,171.6 L570.7,161.6 L571.1,144.8 L572.4,133.8 L573.3,122.9 L574.0,115.6 L574.0,115.6 L574.9,122.9 L575.8,142.9 L576.7,148.4 L577.6,164.8 L579.1,141.1 L580.4,140.2 L581.3,148.4 L582.2,174.6 L583.5,180.0 L584.6,183.7 L585.8,200.0 L587.1,203.7 L588.2,212.8 L589.5,216.4 L591.3,216.8 L592.2,205.5 L593.1,178.2 L593.3,139.3 L594.0,126.6 L594.9,115.6 L595.8,114.7 L596.8,122.9 L597.7,130.2 L598.6,157.5 L599.5,167.3 L601.3,168.2 L602.8,172.7 L604.0,180.0 L604.9,190.9 L605.9,196.4 L606.8,203.3 L608.2,202.8 L609.0,196.4 L610.0,194.6 L611.3,188.2 L613.1,187.3 L615.0,183.7 L616.2,180.0 L616.4,166.6 L617.3,157.5 L618.1,141.1 L619.1,142.0 L619.9,157.5 L621.0,165.5 L622.8,167.3 L623.5,174.6 L625.0,176.4 L626.4,181.8 L627.7,187.3 L628.6,196.4 L629.5,197.3 L630.4,187.3 L631.3,183.7 L632.6,192.8 L633.7,198.2 L634.4,192.8 L635.5,193.7 L636.3,205.5 L637.3,206.4 L638.1,187.3 L638.8,169.1 L639.0,166.6 L639.5,148.4 L640.4,139.3 L641.4,130.2 L642.3,122.9 L643.2,113.8 L643.5,111.0 L645.0,111.0 L645.7,117.5 L646.1,122.9 L646.8,142.9 L647.7,145.7 L648.6,144.8 L649.5,157.5 L650.5,170.9 L651.4,181.8 L652.3,190.9 L653.7,192.8 L655.0,197.3 L656.3,196.4 L657.4,193.7 L659.6,192.8 L661.4,190.9 L662.3,183.7 L662.7,170.9 L662.7,166.6 L662.8,141.1 L664.1,139.3 L665.0,135.7 L665.9,128.4 L666.8,126.6 L667.8,130.2 L668.7,135.7 L669.6,144.8 L670.5,148.4 L671.9,153.9 L673.2,159.3 L674.1,169.1 L675.6,170.0 L676.9,167.3 L678.7,166.9 L679.6,170.9 L680.5,181.8 L681.8,188.2 L682.9,178.2 L683.6,170.9 L684.7,171.8 L686.0,167.3 L686.5,161.2 L687.8,159.3 L689.0,158.4 L690.5,155.7 L691.4,148.4 L692.3,139.3 L693.8,138.9 L694.5,148.4 L695.6,157.5 L696.9,159.3 L697.8,161.2 L699.2,160.2 L699.6,169.1 L700.5,178.2 L701.8,179.1 L702.9,174.6 L703.6,167.3 L703.8,148.4 L704.3,130.2 L705.4,119.3 L706.5,117.5 L707.3,119.3 L708.3,130.2 L709.1,128.4 L709.8,142.9 L710.5,152.0 L711.4,157.5 L712.3,178.2 L713.3,192.8 L714.5,191.9 L715.1,169.1 L716.4,170.9 L717.1,180.0 L718.2,180.9 L719.3,175.5 L720.5,173.7 L721.8,174.6 L723.3,177.3 L724.0,178.2 L724.6,179.1 L725.9,180.0 L726.8,169.1 L727.3,148.4 L727.7,130.2 L728.6,112.0 L729.0,94.6 L729.5,84.6 L731.3,84.1 L731.7,94.6 L731.9,112.0 L732.3,135.7 L733.2,137.5 L733.7,116.6 L735.0,115.3 L735.5,122.9 L736.3,133.8 L737.3,134.8 L738.2,150.0 L739.0,160.0 L739.8,172.0 L740.5,188.0 L741.3,200.0 L742.3,205.5 L744.1,205.1 L745.0,192.8 L745.6,178.2 L745.9,164.8 L746.8,163.0 L747.7,148.4 L748.6,142.0 L750.5,141.1 L751.9,135.7 L753.2,133.8 L754.1,134.8 L755.0,148.4 L755.9,156.6 L757.4,157.5 L758.1,148.4 L759.2,133.8 L760.5,132.9 L761.4,148.4 L762.3,167.3 L764.1,168.2 L765.0,166.4 L765.9,174.6 L767.2,178.2 L767.8,187.3 L769.0,188.2 L769.6,178.2 L770.5,165.5 L770.8,153.9 L771.9,153.0 L772.7,159.3 L773.8,157.5 L774.1,130.2 L775.0,117.5 L775.6,114.7 L776.9,115.3 L778.1,117.5 L778.7,128.4 L779.6,129.3 L781.0,130.2 L781.8,141.1 L782.9,163.0 L784.1,165.5 L785.4,170.9 L786.5,187.3 L787.2,185.5 L788.3,189.1 L789.0,196.4 L790.5,199.1 L792.0,192.8 L793.2,190.9 L794.1,178.2 L794.5,148.4 L795.1,139.3 L796.0,124.7 L797.8,123.8 L799.6,124.4 L800.5,135.7 L801.4,137.5 L802.3,139.3 L802.9,166.6 L803.2,176.4 L804.7,178.2 L805.4,183.7 L806.5,184.6" stroke="#fdfd7e"/>
</g>
<polygon points="121.8,13 128,13 124.9,8" fill="#00e800"/>
<polygon points="811,312.2 811,318.2 815.9,315.2" fill="#00e800"/>
<text x="108.8" y="322.6" text-anchor="end">0</text>
<text x="108.8" y="268.1" text-anchor="end">5</text>
<text x="108.8" y="213.5" text-anchor="end">10</text>
<text x="108.8" y="159.0" text-anchor="end">15</text>
<text x="108.8" y="104.4" text-anchor="end">20</text>
<text x="108.8" y="49.9" text-anchor="end">25</text>
<text x="147.8" y="338.6" text-anchor="middle">Week 10</text>
<text x="305.0" y="338.6" text-anchor="middle">Week 11</text>
<text x="462.3" y="338.6" text-anchor="middle">Week 12</text>
<text x="619.6" y="338.6" text-anchor="middle">Week 13</text>
<text x="776.8" y="338.6" text-anchor="middle">Week 14</text>
<text transform="translate(18.3,164.5) rotate(-90)" text-anchor="middle">onlinestream.live</text>
<g shape-rendering="crispEdges"><rect x="31.5" y="365.5" width="16" height="16" fill="#ff8080" stroke="#000" stroke-width="1"/>
<rect x="31.5" y="393.5" width="16" height="16" fill="#ffff80" stroke="#000" stroke-width="1"/></g>
<text x="57.5" y="380.5">legtöbb</text>
<text x="57.5" y="408.5">átlag</text>
<text x="242" y="408.5">most: 12</text>
<text x="465" y="408.5">átlag: 14</text>
<text x="701" y="408.5">max: 21</text>
</svg></body></html>
